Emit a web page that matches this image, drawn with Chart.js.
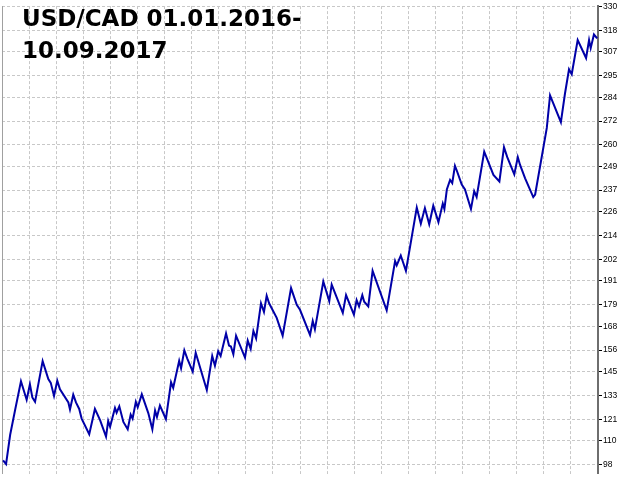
<!DOCTYPE html>
<html>
<head>
<meta charset="utf-8">
<script src="https://cdn.jsdelivr.net/npm/chart.js@4"></script>
<style>
  body { margin: 0; background: #fff; }
  #wrap { position: relative; width: 640px; height: 480px; }
  #title {
    position: absolute; left: 22px; top: 2px;
    font: bold 23px "DejaVu Sans", sans-serif; line-height: 32px;
    color: #000; white-space: nowrap;
  }
</style>
</head>
<body>
<div id="wrap">
  <canvas id="usdcad-chart" width="640" height="480"></canvas>
  <div id="title">USD/CAD 01.01.2016-<br>10.09.2017</div>
</div>
<script>
// time position along the chart (one unit = one vertical grid cell)
var tradeX = [
  0.04, 0.15, 0.30, 0.48, 0.70, 0.91, 1.03, 1.12, 1.22, 1.50,
  1.71, 1.80, 1.92, 2.04, 2.14, 2.45, 2.51, 2.63, 2.73, 2.85,
  2.94, 3.22, 3.43, 3.62, 3.84, 3.92, 3.99, 4.17, 4.23, 4.33,
  4.48, 4.64, 4.75, 4.82, 4.94, 5.01, 5.16, 5.40, 5.55, 5.65,
  5.72, 5.83, 6.05, 6.24, 6.32, 6.54, 6.61, 6.73, 6.84, 7.04,
  7.15, 7.56, 7.76, 7.86, 7.98, 8.07, 8.27, 8.38, 8.45, 8.54,
  8.64, 8.97, 9.07, 9.18, 9.28, 9.38, 9.56, 9.67, 9.77, 9.86,
  10.14, 10.36, 10.67, 10.88, 11.00, 11.37, 11.47, 11.55, 11.86, 12.08,
  12.17, 12.58, 12.70, 12.99, 13.09, 13.18, 13.30, 13.37, 13.52, 13.68,
  14.20, 14.51, 14.57, 14.72, 14.91, 15.31, 15.46, 15.61, 15.77, 15.92,
  16.11, 16.27, 16.33, 16.42, 16.54, 16.62, 16.72, 16.78, 16.97, 17.09,
  17.31, 17.43, 17.52, 17.80, 18.14, 18.36, 18.53, 18.65, 18.91, 19.04,
  19.12, 19.31, 19.61, 19.68, 20.11, 20.23, 20.63, 20.78, 20.93, 21.03,
  21.25, 21.56, 21.67, 21.73, 21.85, 21.97
];
// balance curve
var balance = [
  100.2, 98.3, 113.0, 125.4, 140.2, 130.8, 138.7, 132.0, 129.8, 150.4,
  141.3, 139.4, 132.8, 140.5, 136.1, 129.5, 125.9, 133.4, 129.5, 126.2,
  121.3, 113.4, 126.2, 120.5, 112.2, 120.1, 117.2, 126.7, 124.3, 127.5,
  119.6, 115.9, 123.3, 121.3, 129.8, 127.0, 133.6, 124.1, 115.9, 125.4,
  122.1, 127.9, 121.0, 139.7, 136.9, 150.6, 146.8, 155.9, 151.7, 145.1,
  154.7, 135.8, 153.0, 148.1, 155.4, 153.0, 164.4, 158.3, 157.8, 153.9,
  163.3, 152.2, 160.8, 156.6, 165.7, 161.9, 179.7, 175.3, 183.5, 179.7,
  172.3, 163.3, 187.4, 178.9, 176.4, 163.7, 170.7, 166.5, 190.7, 180.8,
  189.2, 174.8, 183.8, 173.9, 181.3, 178.1, 183.8, 180.5, 178.1, 196.1,
  176.1, 201.1, 198.9, 203.9, 196.1, 228.2, 220.0, 227.9, 219.7, 229.1,
  220.8, 230.2, 227.4, 237.3, 242.2, 240.6, 249.3, 247.2, 239.8, 237.3,
  227.4, 236.5, 233.6, 256.5, 244.7, 241.4, 258.7, 253.7, 245.0, 253.7,
  249.9, 243.0, 233.5, 234.8, 268.5, 285.0, 271.4, 285.8, 298.2, 295.7,
  313.0, 303.9, 313.0, 308.9, 315.8, 313.8
];
// price scale labels on the right
var tickValues = [98, 110, 121, 133, 145, 156, 168, 179, 191, 202, 214,
  226, 237, 249, 260, 272, 284, 295, 307, 318, 330];

var points = tradeX.map(function (x, i) { return { x: x, y: balance[i] }; });

var ctx = document.getElementById('usdcad-chart').getContext('2d');
var myChart = new Chart(ctx, {
  type: 'line',
  data: {
    datasets: [{
      data: points,
      borderColor: '#0000a8',
      borderWidth: 2,
      pointRadius: 0,
      tension: 0,
      yAxisID: 'y'
    }]
  },
  options: {
    responsive: false,
    animation: false,
    layout: { autoPadding: false, padding: { left: 2, right: 0, top: 0, bottom: 0 } },
    plugins: { legend: { display: false }, tooltip: { enabled: false } },
    scales: {
      x: {
        type: 'linear', min: 0, max: 22,
        ticks: { display: false, stepSize: 1 },
        grid: { color: '#c8c8c8', drawTicks: false },
        border: { display: false, dash: [3, 2] }
      },
      y: {
        position: 'right', min: 93.3, max: 330.2,
        afterBuildTicks: function (scale) {
          scale.ticks = tickValues.map(function (v) { return { value: v }; });
        },
        afterFit: function (scale) { scale.width = 42; },
        ticks: { color: '#000', padding: 1, font: { family: 'Liberation Sans', size: 8.5 } },
        grid: { color: '#c8c8c8', tickColor: '#000', tickLength: 4 },
        border: { color: '#6e6e6e', width: 2, dash: [3, 2] }
      },
      yl: {
        position: 'left',
        ticks: { display: false },
        grid: { display: false, drawTicks: false },
        border: { color: '#a0a0a0', width: 1 }
      }
    }
  }
});
</script>
</body>
</html>
